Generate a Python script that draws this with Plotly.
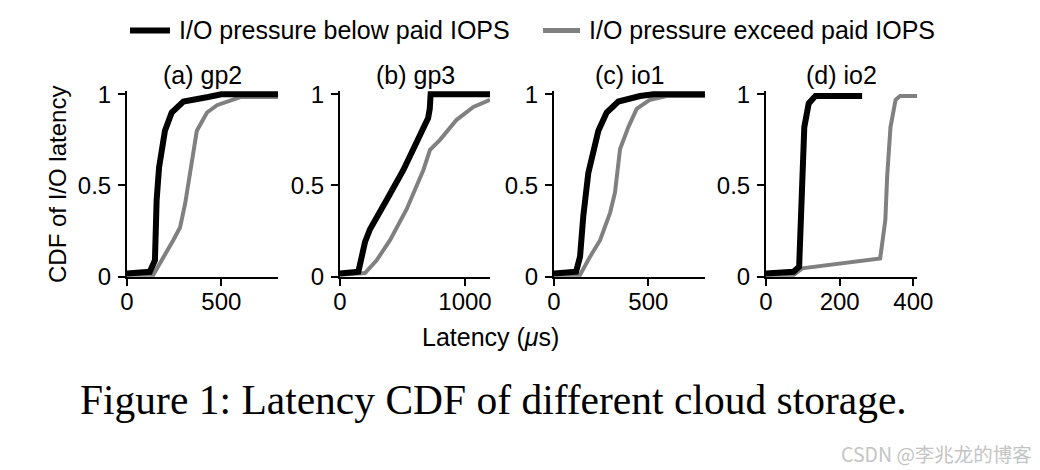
"""Latency CDF of different cloud storage - four small panels."""

import plotly.graph_objects as go

PANELS = ["(a) gp2", "(b) gp3", "(c) io1", "(d) io2"]
SERIES = ["I/O pressure below paid IOPS", "I/O pressure exceed paid IOPS"]

# latency (us) / CDF points
gp2_below_x = [0, 121, 148, 157, 170, 183, 201, 237, 299, 430, 500, 800]
gp2_below_y = [0.018, 0.027, 0.09, 0.42, 0.6, 0.70, 0.80, 0.90, 0.96, 0.985, 1.0, 1.0]
gp2_exceed_x = [0, 139, 245, 281, 308, 334, 370, 424, 477, 601, 800]
gp2_exceed_y = [0.01, 0.01, 0.2, 0.27, 0.40, 0.58, 0.80, 0.90, 0.94, 0.985, 0.985]

gp3_below_x = [0, 147, 200, 240, 373, 507, 705, 718, 725, 1200]
gp3_below_y = [0.018, 0.027, 0.19, 0.26, 0.42, 0.585, 0.87, 0.92, 1.0, 1.0]
gp3_exceed_x = [0, 200, 293, 400, 533, 667, 720, 800, 933, 1067, 1200]
gp3_exceed_y = [0.01, 0.02, 0.09, 0.2, 0.37, 0.585, 0.695, 0.75, 0.86, 0.93, 0.97]

io1_below_x = [0, 117, 138, 155, 182, 208, 235, 279, 341, 456, 527, 800]
io1_below_y = [0.018, 0.027, 0.11, 0.33, 0.57, 0.69, 0.80, 0.90, 0.96, 0.99, 1.0, 1.0]
io1_exceed_x = [0, 138, 191, 244, 297, 323, 350, 394, 438, 509, 597, 800]
io1_exceed_y = [0.01, 0.01, 0.11, 0.2, 0.35, 0.46, 0.70, 0.82, 0.92, 0.97, 0.99, 0.99]

io2_below_x = [0, 75, 90, 98, 104, 116, 134, 261]
io2_below_y = [0.018, 0.027, 0.055, 0.46, 0.82, 0.95, 0.99, 0.99]
io2_exceed_x = [0, 75, 98, 310, 324, 329, 338, 352, 364, 410]
io2_exceed_y = [0.01, 0.01, 0.046, 0.10, 0.31, 0.55, 0.82, 0.97, 0.99, 0.99]

x_ranges = [[0, 800], [0, 1200], [0, 800], [0, 410]]
x_ticks = [[0, 500], [0, 1000], [0, 500], [0, 200, 400]]
y_ticks = [0, 0.5, 1]
y_tick_labels = ["0", "0.5", "1"]

below = [(gp2_below_x, gp2_below_y), (gp3_below_x, gp3_below_y),
         (io1_below_x, io1_below_y), (io2_below_x, io2_below_y)]
exceed = [(gp2_exceed_x, gp2_exceed_y), (gp3_exceed_x, gp3_exceed_y),
          (io1_exceed_x, io1_exceed_y), (io2_exceed_x, io2_exceed_y)]

FONT = "Liberation Sans, Arial, sans-serif"
W, H = 1040, 470
BLACK_LINE = {"color": "black", "width": 6}
GREY_LINE = {"color": "#808080", "width": 4}


def px(x):
    return x / W


def py(y):
    return (H - y) / H


def text_at(text, x, y, size, xanchor="center", **kw):
    fig.add_annotation(
        text=text, x=px(x), y=py(y), xref="paper", yref="paper",
        xanchor=xanchor, yanchor="middle", showarrow=False,
        font={"size": size, "color": kw.pop("color", "black"),
              "family": kw.pop("family", FONT)},
        **kw
    )


# panel left / right edges in pixels
edges = [(127, 278), (340, 490), (554, 705), (766, 917)]
y_dom = [py(276.7), py(90.6)]

fig = go.Figure()

for i in range(4):
    suffix = "" if i == 0 else str(i + 1)
    xs, ys = exceed[i]
    fig.add_trace(go.Scatter(
        x=xs, y=ys, mode="lines", line=GREY_LINE, name=SERIES[1],
        xaxis="x" + suffix, yaxis="y" + suffix
    ))
    xs, ys = below[i]
    fig.add_trace(go.Scatter(
        x=xs, y=ys, mode="lines", line=BLACK_LINE, name=SERIES[0],
        xaxis="x" + suffix, yaxis="y" + suffix
    ))

    l, r = edges[i]
    axis_common = {
        "showline": True, "linecolor": "black", "linewidth": 2,
        "ticks": "outside", "ticklen": 7, "tickwidth": 2,
        "tickcolor": "black", "showgrid": False, "zeroline": False,
        "tickfont": {"size": 24, "color": "black", "family": FONT},
        "fixedrange": True
    }
    fig.layout["xaxis" + suffix] = dict(
        axis_common, domain=[px(l), px(r)], range=x_ranges[i],
        tickvals=x_ticks[i], anchor="y" + suffix, ticklabelstandoff=-5
    )
    fig.layout["yaxis" + suffix] = dict(
        axis_common, domain=y_dom, range=[0, 1.02],
        tickvals=y_ticks, ticktext=y_tick_labels, anchor="x" + suffix,
        ticklabelstandoff=2
    )
    text_at(PANELS[i], (l + r) / 2, 75, 25)

# legend drawn by hand so the swatches get the reference length
fig.add_shape(type="line", xref="paper", yref="paper",
              x0=px(130), x1=px(170), y0=py(30.5), y1=py(30.5),
              line={"color": "black", "width": 6})
fig.add_shape(type="line", xref="paper", yref="paper",
              x0=px(543), x1=px(580), y0=py(30.5), y1=py(30.5),
              line={"color": "#808080", "width": 5})
text_at(SERIES[0], 177, 30, 25, xanchor="left")
text_at(SERIES[1], 587, 30, 25, xanchor="left")

text_at("CDF of I/O latency", 58, 185, 24, textangle=-90)
text_at("Latency (<i>μ</i>s)", 490, 337, 25)
text_at("Figure 1: Latency CDF of different cloud storage.", 493, 400, 41.5,
        family="Liberation Serif, Times New Roman, serif")
text_at("CSDN @李兆龙的博客", 1034, 453, 19.5, xanchor="right",
        color="#c4c4c4", family="Noto Sans CJK SC")

fig.update_layout(
    width=W, height=H,
    margin={"l": 0, "r": 0, "t": 0, "b": 0, "autoexpand": False},
    plot_bgcolor="white", paper_bgcolor="white",
    showlegend=False
)

fig.write_html("out.html", config={"displayModeBar": False},
               post_script="document.body.style.margin = '0';")
